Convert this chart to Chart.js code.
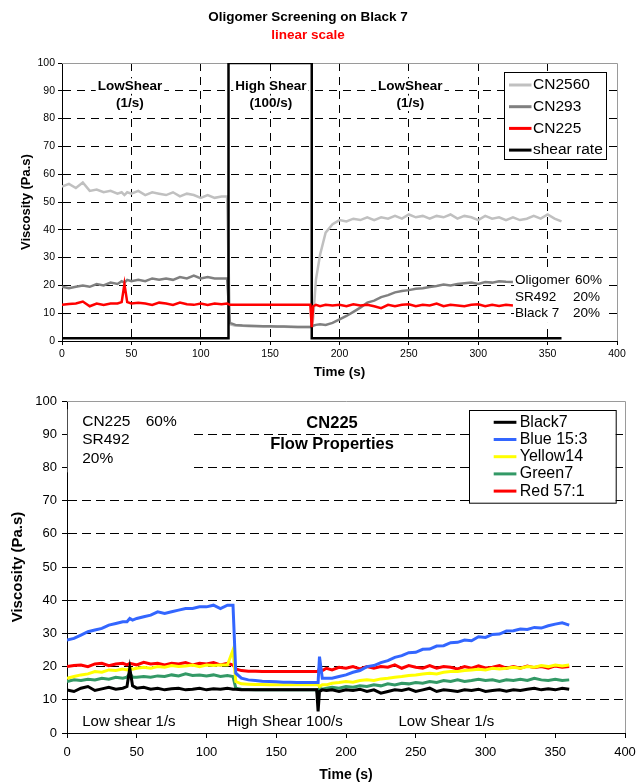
<!DOCTYPE html>
<html>
<head>
<meta charset="utf-8">
<title>Oligomer Screening on Black 7</title>
<script src="https://cdn.jsdelivr.net/npm/chart.js@4.4.1/dist/chart.umd.min.js"></script>
<style>
  html, body { margin: 0; padding: 0; background: #fff; }
  #wrap { position: relative; width: 643px; height: 784px; }
  canvas { position: absolute; left: 0; }
  #topChart { top: 0; width: 643px; height: 380px; }
  #bottomChart { top: 380px; width: 643px; height: 404px; }
</style>
</head>
<body>
<div id="wrap">
  <canvas id="topChart" width="643" height="380"></canvas>
  <canvas id="bottomChart" width="643" height="404"></canvas>
</div>
<script>
// Oligomer screening on Black 7 - viscosity vs time, two panels

// Sample times (s), shared by all viscosity series
const times = [
  0, 5, 10, 15, 20, 25, 30, 35, 40,
  43, 45, 47,
  50, 55, 60, 65, 70, 75, 80, 85, 90, 95, 100, 105, 110, 115,
  119, 121,
  125, 130, 135, 140, 145, 150, 155, 160, 165, 170, 175,
  179, 180, 181, 183, 186, 190, 195,
  200, 205, 210, 215, 220, 225, 230, 235, 240, 245, 250, 255, 260, 265, 270, 275,
  280, 285, 290, 295, 300, 305, 310, 315, 320, 325, 330, 335, 340, 345, 350, 355, 360
];

// Top panel series (Pa.s)
const cn2560 = [
  55.5, 56.5, 55, 57, 54, 54.5, 53.5, 54, 53,
  53.5, 52.5, 53.5,
  53, 54, 52.5, 53.5, 53, 52.5, 53.5, 52, 53, 52.5, 51.5, 52.5, 51.5, 52,
  52, 6,
  5.5, 5.5, 5.3, 5.3, 5.2, 5.2, 5.1, 5.1, 5, 5, 5,
  5, 5, 8, 22, 31, 39, 42,
  43.5, 43, 44, 43.5, 44.5, 43.5, 44.5, 44, 45, 44, 45.5, 44.5, 45, 44, 45, 44.5,
  45.5, 44, 45, 44.5, 43.5, 45, 44, 44.5, 43.5, 44.5, 43.5, 44, 45, 44, 45.5, 44, 43
];
const cn293 = [
  19.5, 19, 19.5, 20, 19.5, 20.5, 20, 21, 20.5,
  21.5, 21, 22,
  21.5, 22, 21.5, 22.5, 22, 22.5, 22, 23, 22.5, 23.5, 22.5, 23, 22.5, 22.5,
  22.5, 6.5,
  5.8, 5.6, 5.5, 5.4, 5.3, 5.3, 5.2, 5.2, 5.1, 5, 5,
  5, 5, 5.5, 5.8, 6, 5.8, 6.5,
  7.8, 9, 10.5, 12, 13.8, 14.5, 15.8, 16.5, 17.5, 18, 18.3, 18.8, 19, 19.4, 19.8, 20.3,
  20, 20.5, 20.8, 21, 20.5, 21.2, 21, 21.5, 21.3, 21.2, null, null, null, null, null, null, null
];
const cn225 = [
  13, 13.3, 13.5, 14.2, 12.5, 13.5, 13, 13.5, 13.5,
  14, 20.5, 14,
  13.5, 13.8, 13.5, 13, 13.8, 13.5, 13, 13.8, 13.2, 13, 13.5, 13, 13.5, 13.2,
  13.5, 13,
  13, 13, 13, 13, 13, 13, 13, 13, 13, 13, 13,
  13, 5, 12.5, 13, 12.5, 13, 12.8,
  13, 12.5, 13.2, 12.8, 13, 12.5, 11.8, 13, 12.5, 13, 13.2, 12.5, 13, 12.8, 13.5, 12.5,
  13, 12.8, 12.5, 13, 13.2, 12.5, 13, 12.6, 13, 12.8, null, null, null, null, null, null, null
];

// Shear rate profile (1/s) on its own time base
const shearTimes = [0, 120, 120, 180, 180, 360];
const shearRates = [1, 1, 100, 100, 1, 1];

// Bottom panel series, CN225 with pigments (Pa.s)
const black7 = [
  13, 12.5, 13.5, 14, 12.8, 13.3, 13.8, 13.2, 13.5,
  14, 19.5, 14.2,
  13.5, 13.8, 13.2, 13.5, 13, 13.3, 13.5, 13, 13.2, 13.5, 13, 13.3, 13.2, 13.5,
  13.2, 13.2,
  13, 13, 13, 13, 13, 13, 13, 13, 13, 13, 13,
  13, 6.5, 12.5, 13, 12.8, 13, 12.5,
  13, 12.8, 13.2, 12.5, 13, 12, 12.5, 13, 12.8, 13.3, 12.5, 13, 13.5, 12.5, 13, 12.8,
  12.5, 13, 12.8, 13.2, 12.5, 12.8, 13, 12.6, 13, 12.8, 13.2, 13.5, 13, 13.3, 13, 13.5, 13.2
];
const blue153 = [
  28, 28.5, 29.5, 30.5, 31, 31.5, 32.5, 33, 33.5,
  33.5, 34.5, 34,
  34.5, 35, 35.5, 36.5, 36, 36.5, 37, 37.5, 37.5, 38, 38, 38.5, 37.5, 38.5,
  38.5, 18,
  16.5, 16, 15.8, 15.6, 15.5, 15.4, 15.3, 15.3, 15.2, 15.2, 15.2,
  15.2, 15.2, 23, 16.5, 16.5, 16.5, 17,
  17.5, 18.3, 18.8, 20, 20.3, 21.2, 21.8, 22.8, 23.3, 24.2, 24.3, 25.2, 25.3, 26.2, 26.3, 27.2,
  27.3, 28, 27.8, 29, 28.8, 29.7, 29.8, 30.7, 30.8, 31.3, 31.2, 31.8, 31.6, 32.3, 32.8, 33.2, 32.5
];
const yellow14 = [
  16.5, 17, 17.5, 17.8, 18.5, 18.3, 19, 18.8, 19.3,
  19, 19.5, 19.2,
  19.5, 19.8, 19.5, 20, 19.8, 20.3, 20, 20.2, 20.5, 20, 20.5, 20.3, 20.5, 20.5,
  25, 15.5,
  14.8, 14.7, 14.6, 14.6, 14.5, 14.5, 14.5, 14.5, 14.5, 14.5, 14.5,
  14.5, 14.5, 14, 14.5, 14.5, 15, 15.2,
  15.5, 15.3, 15.8, 16, 15.8, 16.3, 16.5, 16.8, 17, 17.3, 17.5, 17.8, 18, 17.8, 18.3, 18.5,
  18.5, 18.8, 19, 19.2, 19, 19.5, 19.3, 19.5, 19.8, 19.5, 20, 19.8, 20.3, 20, 20.5, 20.2, 20.5
];
const green7 = [
  15.5, 16, 15.8, 16.2, 16, 16.5, 16.2, 16.8, 16.5,
  16.8, 18, 16.8,
  16.8, 17, 16.8, 17.2, 17, 17.5, 17.2, 17.8, 17.3, 17.5, 17.2, 17.5, 17, 17.3,
  17, 13.5,
  13.2, 13.1, 13, 13, 13, 13, 13, 13, 13, 13, 13,
  13, 11, 13.5, 13.2, 13.5, 13.8, 13.5,
  14, 13.8, 14.2, 14, 14.5, 14.2, 14.8, 14.5, 15, 14.8, 15.2, 15, 15.5, 15.2, 15.8, 15.5,
  16, 15.5, 15.8, 16.2, 15.8, 16, 15.5, 16, 15.8, 16.2, 15.8, 16.5, 16, 15.8, 16.2, 15.8, 16
];
const red571 = [
  20, 20.3, 20.5, 20, 20.8, 21, 20.3, 20.8, 21,
  20.5, 21, 20.8,
  20.5, 21.3, 20.8, 21, 20.5, 21, 20.8, 21.2, 20.5, 21, 20.8, 21.2, 20.5, 21,
  20.5, 19.3,
  18.8, 18.6, 18.6, 18.5, 18.5, 18.5, 18.5, 18.5, 18.5, 18.5, 18.5,
  18.5, 18.5, 19.5, 18.8, 19.5, 19, 19.8,
  19.5, 20, 19.3, 20, 19.5, 20, 19.8, 20.5, 19.5, 20.3, 19.8, 19.5, 20.3, 19.5, 20, 19.8,
  19.3, 20, 19.5, 20.2, 19.6, 19.8, 20.3, 19.5, 20, 19.5, 20.2, 19.7, 20, 19.5, 20.2, 19.8, 20
];

// Axis ticks
const xTicks = [0, 50, 100, 150, 200, 250, 300, 350, 400];
const yTicks = [0, 10, 20, 30, 40, 50, 60, 70, 80, 90, 100];

const FONT = "'Liberation Sans', Arial, sans-serif";
Chart.defaults.font.family = FONT;
Chart.defaults.color = '#000';

function toPoints(xs, ys) {
  return ys.map((v, i) => ({ x: xs[i], y: v }));
}

function line(label, xs, ys, color, width, order) {
  return {
    label: label,
    data: toPoints(xs, ys),
    borderColor: color,
    backgroundColor: color,
    borderWidth: width,
    pointRadius: 0,
    tension: 0,
    spanGaps: false,
    order: order
  };
}

// Grey frame on top/right, drawn under the data
const framePlugin = {
  id: 'frame',
  beforeDatasetsDraw(chart) {
    const { ctx, chartArea: a } = chart;
    ctx.save();
    ctx.strokeStyle = '#9a9a9a';
    ctx.lineWidth = 1;
    ctx.beginPath();
    ctx.moveTo(a.left, Math.round(a.top) + 0.5);
    ctx.lineTo(Math.round(a.right) + 0.5, Math.round(a.top) + 0.5);
    ctx.lineTo(Math.round(a.right) + 0.5, a.bottom);
    ctx.stroke();
    ctx.restore();
  }
};

// Text boxes: white rectangles and labels placed in data units (or canvas px)
const notesPlugin = {
  id: 'notes',
  afterDatasetsDraw(chart, args, opts) {
    const { ctx, scales: { x, y } } = chart;
    ctx.save();
    ctx.fillStyle = '#fff';
    (opts.boxes || []).forEach(b => {
      const x0 = x.getPixelForValue(b.x0), x1 = x.getPixelForValue(b.x1);
      const y0 = y.getPixelForValue(b.y0), y1 = y.getPixelForValue(b.y1);
      ctx.fillRect(x0, y1, x1 - x0, y0 - y1);
    });
    ctx.textBaseline = 'middle';
    (opts.texts || []).forEach(t => {
      const px = t.px !== undefined ? t.px : x.getPixelForValue(t.x);
      const py = t.py !== undefined ? t.py : y.getPixelForValue(t.y);
      ctx.font = t.font + ' ' + FONT;
      ctx.textAlign = t.align || 'left';
      if (t.bg) {
        const w = ctx.measureText(t.text).width;
        const h = t.size + 2;
        let left = px;
        if (ctx.textAlign === 'center') left = px - w / 2;
        if (ctx.textAlign === 'right') left = px - w;
        ctx.fillStyle = '#fff';
        ctx.fillRect(left - 2, py - h / 2, w + 4, h);
      }
      ctx.fillStyle = t.color || '#000';
      ctx.fillText(t.text, px, py);
    });
    ctx.restore();
  }
};

// Boxed legend inside the plot area
const boxLegend = {
  id: 'boxLegend',
  afterDraw(chart, args, opts) {
    const { ctx, chartArea: a } = chart;
    const left = Math.round(a.right - opts.right - opts.width);
    const top = Math.round(a.top + opts.top);
    ctx.save();
    ctx.fillStyle = '#fff';
    ctx.fillRect(left, top, opts.width, opts.height);
    ctx.strokeStyle = '#000';
    ctx.lineWidth = 1;
    ctx.strokeRect(left + 0.5, top + 0.5, opts.width, opts.height);
    ctx.font = opts.font + ' ' + FONT;
    ctx.textBaseline = 'middle';
    ctx.textAlign = 'left';
    chart.data.datasets.forEach((ds, i) => {
      const yy = top + opts.first + i * opts.step;
      ctx.strokeStyle = ds.borderColor;
      ctx.lineWidth = 3;
      ctx.beginPath();
      ctx.moveTo(left + opts.sampleFrom, yy);
      ctx.lineTo(left + opts.sampleTo, yy);
      ctx.stroke();
      ctx.fillStyle = '#000';
      ctx.fillText(ds.label, left + opts.textX, yy);
    });
    ctx.restore();
  }
};

const CLEAR = 'rgba(0,0,0,0)';

function gridColor(edges) {
  return c => (c.tick && edges.includes(c.tick.value)) ? CLEAR : '#000';
}

function fixedTicks(list) {
  return scale => {
    scale.ticks = list.map(v => ({ value: v }));
  };
}

// ---------- Top panel ----------
const topCtx = document.getElementById('topChart');
new Chart(topCtx, {
  type: 'line',
  data: {
    datasets: [
      line('CN2560', times, cn2560, '#c0c0c0', 2.5, 3),
      line('CN293', times, cn293, '#808080', 2.5, 2),
      line('CN225', times, cn225, '#ff0000', 2.5, 0),
      line('shear rate', shearTimes, shearRates, '#000000', 2.5, 1)
    ]
  },
  options: {
    responsive: false,
    animation: false,
    devicePixelRatio: 1,
    layout: { padding: { top: 63, right: 26, left: 0, bottom: 0 } },
    scales: {
      x: {
        type: 'linear', min: 0, max: 400,
        afterBuildTicks: fixedTicks(xTicks),
        ticks: { font: { size: 10.5 }, color: '#000', padding: 3, autoSkip: false, maxRotation: 0 },
        grid: { color: gridColor([0, 400]), lineWidth: 1, tickLength: 4, tickColor: '#000' },
        border: { color: '#000', width: 1, dash: [8, 6] },
        title: { display: true, text: 'Time (s)', color: '#000', font: { size: 13.5, weight: 'bold' }, padding: 0 },
        afterFit: s => { s.height = 39; }
      },
      y: {
        type: 'linear', min: 0, max: 100,
        afterBuildTicks: fixedTicks(yTicks),
        ticks: { font: { size: 10.5 }, color: '#000', padding: 3, autoSkip: false },
        grid: { color: gridColor([0, 100]), lineWidth: 1, tickLength: 4, tickColor: '#000' },
        border: { color: '#000', width: 1, dash: [8, 6] },
        title: { display: true, text: 'Viscosity (Pa.s)', color: '#000', font: { size: 13, weight: 'bold' }, padding: { top: 19, bottom: 0 } },
        afterFit: s => { s.width = 62; }
      }
    },
    plugins: {
      legend: { display: false },
      tooltip: { enabled: false },
      boxLegend: {
        right: 11, top: 9, width: 102, height: 87,
        first: 13, step: 21.7, sampleFrom: 5, sampleTo: 27.5, textX: 29,
        font: '15.5px'
      },
      notes: {
        boxes: [{ x0: 325.8, x1: 394, y0: 6.5, y1: 25 }],
        texts: [
          { text: 'Oligomer Screening on Black 7', px: 308, py: 17, font: 'bold 13.5px', size: 13.5, align: 'center' },
          { text: 'linear scale', px: 308, py: 35, font: 'bold 13.5px', size: 13.5, align: 'center', color: '#ff0000' },
          { text: 'LowShear', x: 49, y: 91.7, font: 'bold 13.5px', size: 13.5, align: 'center', bg: true },
          { text: '(1/s)', x: 49, y: 85.5, font: 'bold 13.5px', size: 13.5, align: 'center', bg: true },
          { text: 'High Shear', x: 150.6, y: 91.7, font: 'bold 13.5px', size: 13.5, align: 'center', bg: true },
          { text: '(100/s)', x: 150.6, y: 85.5, font: 'bold 13.5px', size: 13.5, align: 'center', bg: true },
          { text: 'LowShear', x: 251, y: 91.7, font: 'bold 13.5px', size: 13.5, align: 'center', bg: true },
          { text: '(1/s)', x: 251, y: 85.5, font: 'bold 13.5px', size: 13.5, align: 'center', bg: true },
          { text: 'Oligomer', x: 326.4, y: 21.9, font: '13.5px', size: 13.5 },
          { text: '60%', x: 369.8, y: 21.9, font: '13.5px', size: 13.5 },
          { text: 'SR492', x: 326.4, y: 15.9, font: '13.5px', size: 13.5 },
          { text: '20%', x: 368.2, y: 15.9, font: '13.5px', size: 13.5 },
          { text: 'Black 7', x: 326.4, y: 10, font: '13.5px', size: 13.5 },
          { text: '20%', x: 368.2, y: 10, font: '13.5px', size: 13.5 }
        ]
      }
    }
  },
  plugins: [framePlugin, notesPlugin, boxLegend]
});

// ---------- Bottom panel ----------
const bottomCtx = document.getElementById('bottomChart');
new Chart(bottomCtx, {
  type: 'line',
  data: {
    datasets: [
      line('Black7', times, black7, '#000000', 3),
      line('Blue 15:3', times, blue153, '#3366ff', 3),
      line('Yellow14', times, yellow14, '#ffff00', 3),
      line('Green7', times, green7, '#339966', 3),
      line('Red 57:1', times, red571, '#ff0000', 3)
    ]
  },
  options: {
    responsive: false,
    animation: false,
    devicePixelRatio: 1,
    layout: { padding: { top: 21, right: 18, left: 0, bottom: 0 } },
    scales: {
      x: {
        type: 'linear', min: 0, max: 400,
        afterBuildTicks: fixedTicks(xTicks),
        ticks: { font: { size: 13 }, color: '#000', padding: 7, autoSkip: false, maxRotation: 0 },
        grid: { drawOnChartArea: false, tickLength: 5, tickColor: '#000' },
        border: { color: '#000', width: 1 },
        title: { display: true, text: 'Time (s)', color: '#000', font: { size: 14, weight: 'bold' }, padding: { top: 0, bottom: 0 } },
        afterFit: s => { s.height = 51; }
      },
      y: {
        type: 'linear', min: 0, max: 100,
        afterBuildTicks: fixedTicks(yTicks),
        ticks: { font: { size: 13 }, color: '#000', padding: 5, autoSkip: false },
        grid: { color: gridColor([0, 100]), lineWidth: 1, tickLength: 5, tickColor: '#000' },
        border: { color: '#000', width: 1, dash: [9, 5] },
        title: { display: true, text: 'Viscosity (Pa.s)', color: '#000', font: { size: 15, weight: 'bold' }, padding: { top: 9, bottom: 0 } },
        afterFit: s => { s.width = 67; }
      }
    },
    plugins: {
      legend: { display: false },
      tooltip: { enabled: false },
      boxLegend: {
        right: 9, top: 9, width: 146.7, height: 92.7,
        first: 12.3, step: 17.2, sampleFrom: 24.7, sampleTo: 47.4, textX: 50.7,
        font: '16px'
      },
      notes: {
        boxes: [{ x0: 0.5, x1: 88.7, y0: 78.5, y1: 97.5 }],
        texts: [
          { text: 'CN225', x: 10.9, y: 93.8, font: '15.5px', size: 15.5 },
          { text: '60%', x: 56.4, y: 93.8, font: '15.5px', size: 15.5 },
          { text: 'SR492', x: 10.9, y: 88.3, font: '15.5px', size: 15.5 },
          { text: '20%', x: 10.9, y: 82.7, font: '15.5px', size: 15.5 },
          { text: 'CN225', x: 190, y: 93.3, font: 'bold 16.5px', size: 16.5, align: 'center' },
          { text: 'Flow Properties', x: 190, y: 87, font: 'bold 16.5px', size: 16.5, align: 'center' },
          { text: 'Low shear 1/s', x: 10.9, y: 3.5, font: '15px', size: 15 },
          { text: 'High Shear 100/s', x: 114.6, y: 3.5, font: '15px', size: 15 },
          { text: 'Low Shear 1/s', x: 237.6, y: 3.5, font: '15px', size: 15 }
        ]
      }
    }
  },
  plugins: [framePlugin, notesPlugin, boxLegend]
});
</script>
</body>
</html>
